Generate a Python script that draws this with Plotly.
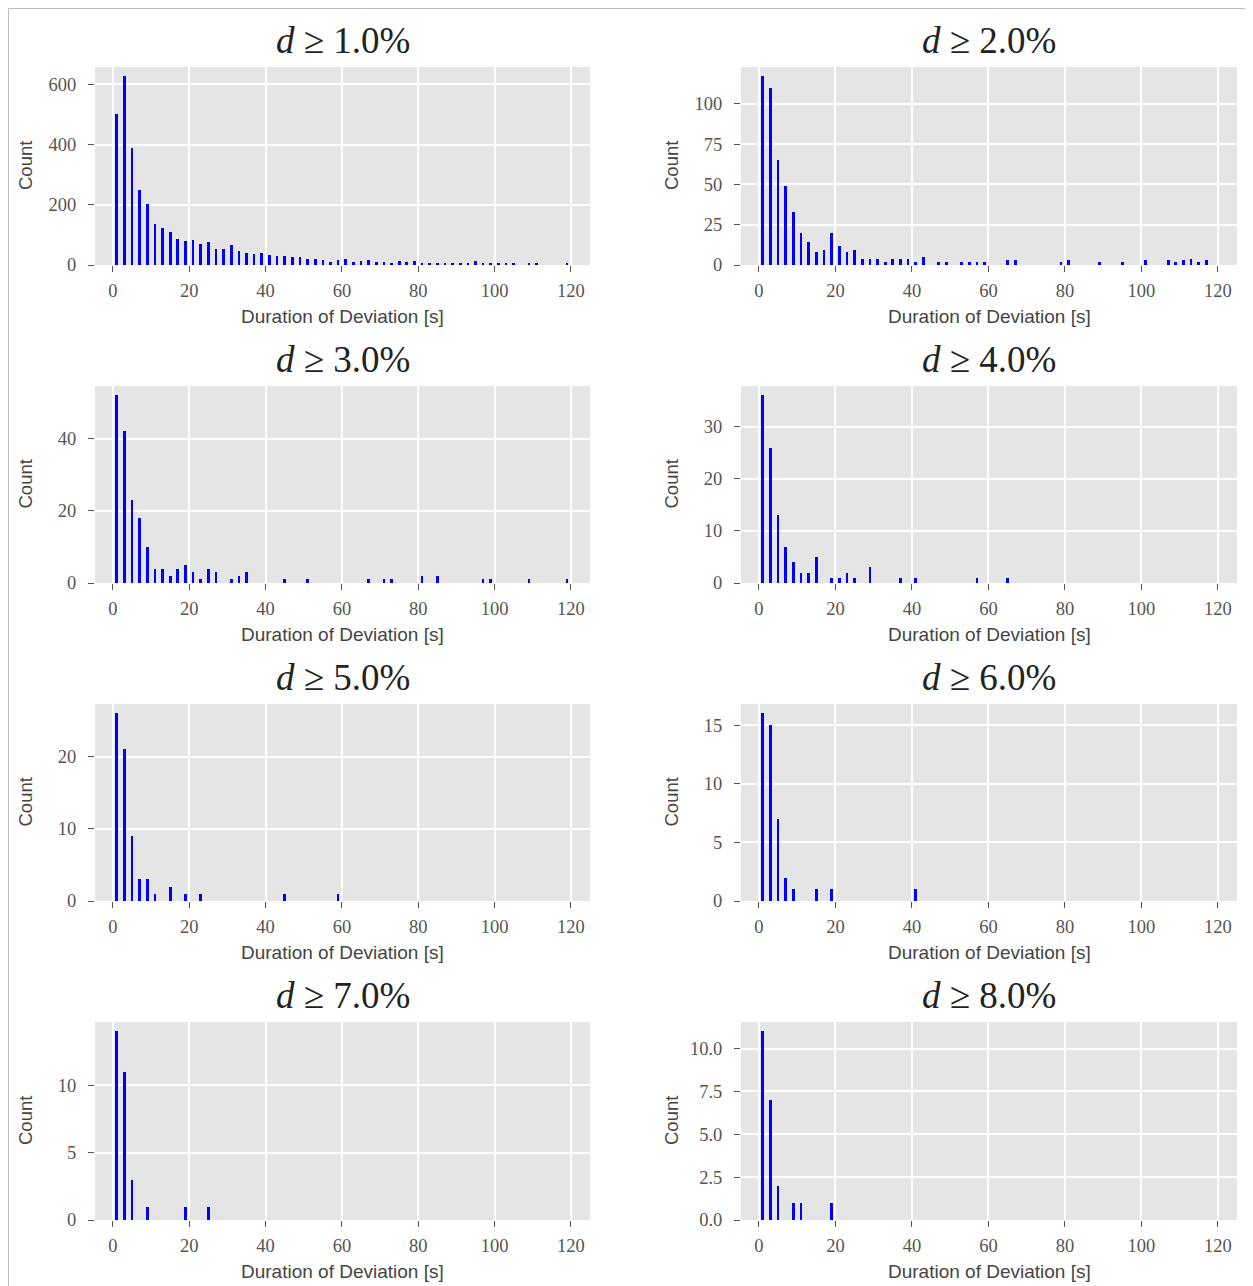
import plotly.graph_objects as go

# page is 1253x1286; the html body adds an 8px margin, so the figure is sized to fit
OFF = 8
W, H = 1253 - OFF, 1286 - OFF

thresholds = ["1.0", "2.0", "3.0", "4.0", "5.0", "6.0", "7.0", "8.0"]

s1_x = [1, 3, 5, 7, 9, 11, 13, 15, 17, 19, 21, 23, 25, 27, 29, 31, 33, 35, 37, 39,
        41, 43, 45, 47, 49, 51, 53, 55, 57, 59, 61, 63, 65, 67, 69, 71, 73, 75, 77, 79,
        81, 83, 85, 87, 89, 91, 93, 95, 97, 99, 101, 103, 105, 109, 111, 119]
s1_y = [500, 626, 390, 250, 201, 137, 124, 111, 85, 79, 84, 71, 75, 53, 53, 65, 47, 40, 35, 40,
        34, 30, 30, 25, 25, 21, 21, 15, 11, 15, 20, 10, 13, 17, 9, 9, 5, 13, 9, 13,
        8, 8, 8, 4, 8, 8, 4, 12, 4, 4, 4, 4, 8, 8, 4, 4]

s2_x = [1, 3, 5, 7, 9, 11, 13, 15, 17, 19, 21, 23, 25, 27, 29, 31, 33, 35, 37, 39,
        41, 43, 47, 49, 53, 55, 57, 59, 65, 67, 79, 81, 89, 95, 101, 107, 109, 111, 113, 115, 117]
s2_y = [117, 110, 65, 49, 33, 20, 14, 8, 9, 20, 12, 8, 9, 4, 4, 4, 2, 4, 4, 4,
        2, 5, 2, 2, 2, 2, 2, 2, 3, 3, 2, 3, 2, 2, 3, 3, 2, 3, 4, 2, 3]

s3_x = [1, 3, 5, 7, 9, 11, 13, 15, 17, 19, 21, 23, 25, 27, 31, 33, 35, 45, 51, 67,
        71, 73, 81, 85, 97, 99, 109, 119]
s3_y = [52, 42, 23, 18, 10, 4, 4, 2, 4, 5, 3, 1, 4, 3, 1, 2, 3, 1, 1, 1,
        1, 1, 2, 2, 1, 1, 1, 1]

s4_x = [1, 3, 5, 7, 9, 11, 13, 15, 19, 21, 23, 25, 29, 37, 41, 57, 65]
s4_y = [36, 26, 13, 7, 4, 2, 2, 5, 1, 1, 2, 1, 3, 1, 1, 1, 1]

s5_x = [1, 3, 5, 7, 9, 11, 15, 19, 23, 45, 59]
s5_y = [26, 21, 9, 3, 3, 1, 2, 1, 1, 1, 1]

s6_x = [1, 3, 5, 7, 9, 15, 19, 41]
s6_y = [16, 15, 7, 2, 1, 1, 1, 1]

s7_x = [1, 3, 5, 9, 19, 25]
s7_y = [14, 11, 3, 1, 1, 1]

s8_x = [1, 3, 5, 9, 11, 19]
s8_y = [11, 7, 2, 1, 1, 1]

x_ticks = [0, 20, 40, 60, 80, 100, 120]
y_dticks = [200, 25, 20, 10, 10, 5, 5, 2.5]
y_formats = ["d", "d", "d", "d", "d", "d", "d", ".1f"]

series = [(s1_x, s1_y), (s2_x, s2_y), (s3_x, s3_y), (s4_x, s4_y),
          (s5_x, s5_y), (s6_x, s6_y), (s7_x, s7_y), (s8_x, s8_y)]

# page-pixel layout of the panels
col_px = [(95, 590), (741, 1237)]
row_px = [(67, 265), (386, 583), (704, 901), (1022, 1220)]
x_range = [-4.7, 125.0]


def px(p):
    return (p - OFF) / W


def py(p):
    return 1 - (p - OFF) / H


tick_font = dict(family="Liberation Serif, DejaVu Serif, serif", size=18.5, color="#555555")

fig = go.Figure()
annotations = []
for i, (xs, ys) in enumerate(series):
    r, c = divmod(i, 2)
    ax = "" if i == 0 else str(i + 1)
    fig.add_trace(go.Bar(x=xs, y=ys, width=0.7,
                         marker=dict(color="#0000FF", line=dict(width=0)),
                         xaxis="x" + ax, yaxis="y" + ax, showlegend=False))
    x0, x1 = col_px[c]
    top, bot = row_px[r]
    fig.update_layout(**{
        "xaxis" + ax: dict(domain=[px(x0), px(x1)], anchor="y" + ax, range=x_range,
                           tickvals=x_ticks, showgrid=True, gridcolor="white", gridwidth=1.5,
                           zeroline=False, showline=False, ticks="outside", ticklen=6,
                           tickcolor="#555555", tickwidth=1, tickfont=tick_font,
                           ticklabelstandoff=3, automargin=False),
        "yaxis" + ax: dict(domain=[py(bot), py(top)], anchor="x" + ax,
                           range=[0, max(ys) * 1.05], dtick=y_dticks[i], tick0=0,
                           tickformat=y_formats[i], showgrid=True, gridcolor="white",
                           gridwidth=1.5, zeroline=False, showline=False, ticks="outside",
                           ticklen=6, tickcolor="#555555", tickwidth=1, tickfont=tick_font,
                           ticklabelstandoff=8, automargin=False),
    })
    cx = px((x0 + x1) / 2)
    annotations.append(dict(x=cx, y=py(top - 27), xref="paper", yref="paper",
                            text=f"<i>d</i> ≥ {thresholds[i]}%", showarrow=False,
                            xanchor="center", yanchor="middle",
                            font=dict(family="Liberation Serif, DejaVu Serif, serif",
                                      size=37, color="#222222")))
    annotations.append(dict(x=cx, y=py(bot + 51), xref="paper", yref="paper",
                            text="Duration of Deviation [s]", showarrow=False,
                            xanchor="center", yanchor="middle",
                            font=dict(family="Liberation Sans, Arial, sans-serif",
                                      size=19, color="#444444")))
    annotations.append(dict(x=px(25 if c == 0 else 671), y=py((top + bot) / 2),
                            xref="paper", yref="paper", text="Count", textangle=-90,
                            showarrow=False, xanchor="center", yanchor="middle",
                            font=dict(family="Liberation Sans, Arial, sans-serif",
                                      size=18.5, color="#444444")))

fig.update_layout(
    width=W, height=H,
    margin=dict(l=0, r=0, t=0, b=0),
    paper_bgcolor="white", plot_bgcolor="#E5E5E5",
    bargap=0, annotations=annotations,
    shapes=[dict(type="rect", xref="paper", yref="paper",
                 x0=0.5 / W, x1=px(1247.5), y0=-0.01, y1=1 - 0.5 / H,
                 line=dict(color="#BBBBBB", width=1), fillcolor="rgba(0,0,0,0)",
                 layer="below")],
    showlegend=False,
)

fig.write_html("out.html")
